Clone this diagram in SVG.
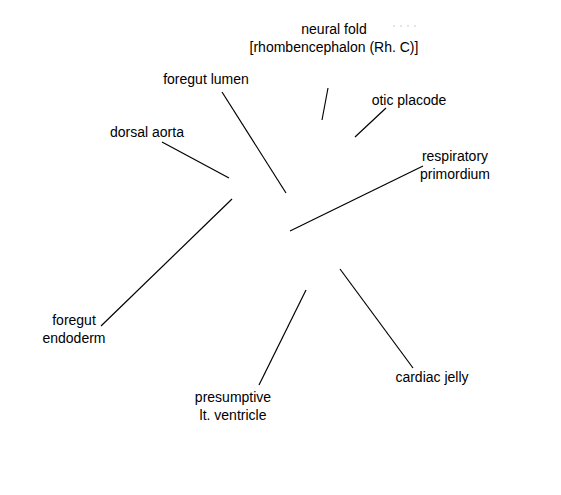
<svg xmlns="http://www.w3.org/2000/svg" width="561" height="495" viewBox="0 0 561 495">
<style>
text{font-family:"Liberation Sans",Arial,sans-serif;font-size:14px;fill:#000;text-anchor:middle}
.c line{stroke:#000;stroke-width:1.2}
</style>
<rect width="561" height="495" fill="#fff"/>
<line x1="393" y1="26" x2="421" y2="26" stroke="#ccc" stroke-width="1" stroke-dasharray="2,5"/>
<g class="c" id="connectors">
<line x1="328" y1="88" x2="322" y2="120"/>
<line x1="222" y1="92" x2="286" y2="193"/>
<line x1="162" y1="142" x2="229" y2="178"/>
<line x1="386" y1="108" x2="355" y2="137"/>
<line x1="423" y1="166" x2="290" y2="231"/>
<line x1="101" y1="326" x2="232" y2="199"/>
<line x1="306" y1="290" x2="259" y2="385"/>
<line x1="340" y1="269" x2="413" y2="368"/>
</g>
<g id="neural-fold"><text x="334" y="34">neural fold</text><text x="334" y="52">[rhombencephalon (Rh. C)]</text></g>
<g id="foregut-lumen"><text x="206" y="84">foregut lumen</text></g>
<g id="dorsal-aorta"><text x="147" y="137">dorsal aorta</text></g>
<g id="otic-placode"><text x="409" y="105">otic placode</text></g>
<g id="respiratory-primordium"><text x="455" y="161">respiratory</text><text x="455" y="179">primordium</text></g>
<g id="foregut-endoderm"><text x="74" y="325">foregut</text><text x="74" y="343">endoderm</text></g>
<g id="presumptive-lt-ventricle"><text x="233" y="402">presumptive</text><text x="233" y="420">lt. ventricle</text></g>
<g id="cardiac-jelly"><text x="432" y="382">cardiac jelly</text></g>
</svg>
